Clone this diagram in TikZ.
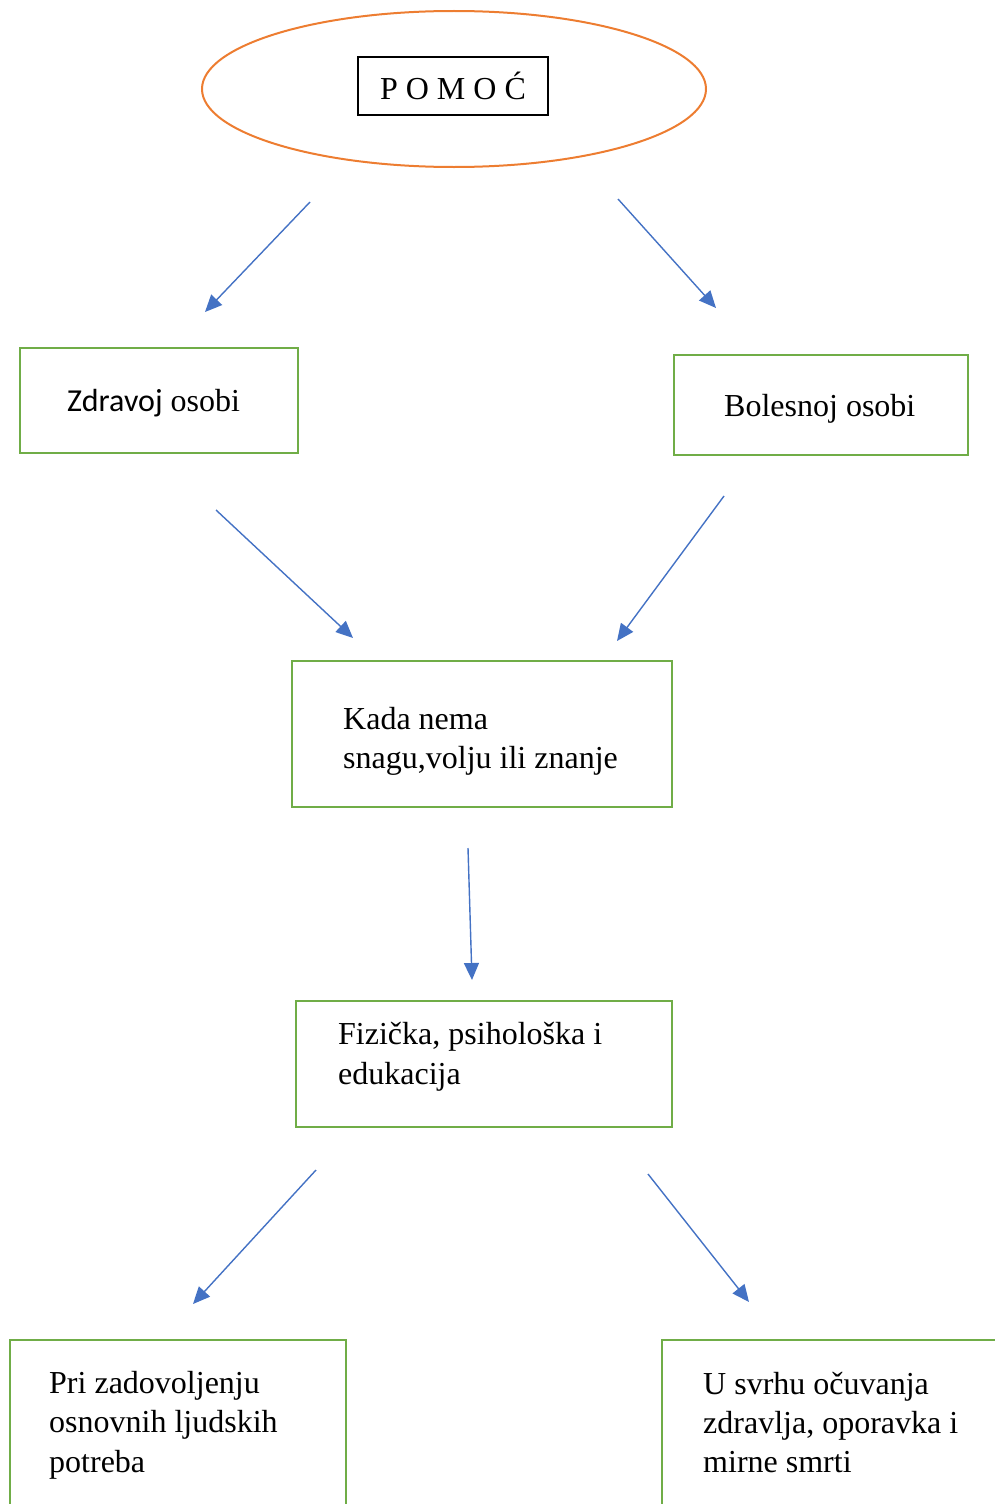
\documentclass[tikz,border=0pt]{standalone}
\usepackage{fontspec}
\setmainfont{Liberation Serif}
\newfontfamily\calfont{Carlito}
\usetikzlibrary{arrows.meta,shapes.geometric}
\definecolor{boxgreen}{HTML}{70AD47}
\definecolor{ellorange}{HTML}{ED7D31}
\definecolor{arrblue}{HTML}{4472C4}
\tikzset{
  gbox/.style={draw=boxgreen, line width=2pt, rectangle, inner sep=0pt},
  txt/.style={anchor=base west, inner sep=0pt, font=\fontsize{32}{39.5}\selectfont},
  conn/.style={draw=arrblue, line width=1.4pt, -{Triangle[length=17pt,width=15pt]}},
}
\begin{document}
\begin{tikzpicture}[x=1pt,y=-1pt]
\useasboundingbox (0,0) rectangle (995,1504);
\clip (0,0) rectangle (995,1504);
% top ellipse
\node[ellipse, draw=ellorange, line width=2pt, minimum width=504pt, minimum height=156pt, inner sep=0pt] (ell) at (454,89) {};
\node[draw=black, line width=1.1pt, minimum width=190pt, minimum height=58pt, inner sep=0pt, font=\fontsize{32}{38}\selectfont] (pomoc) at (453,86) {P O M O Ć};
% boxes
\node[gbox, minimum width=278pt, minimum height=105pt] (zdr) at (159,400.5) {};
\node[txt] (zdrt) at (67,411) {{\calfont Zdravoj} osobi};
\node[gbox, minimum width=294pt, minimum height=100pt] (bol) at (821,405) {};
\node[txt] (bolt) at (724,416) {Bolesnoj osobi};
\node[gbox, minimum width=380pt, minimum height=146pt] (kada) at (482,734) {};
\node[txt] (kada1) at (343,729) {Kada nema};
\node[txt] (kada2) at (343,768) {snagu,volju ili znanje};
\node[gbox, minimum width=376pt, minimum height=126pt] (fiz) at (484,1064) {};
\node[txt] (fiz1) at (338,1044) {Fizička, psihološka i};
\node[txt] (fiz2) at (338,1084) {edukacija};
\node[gbox, minimum width=336pt, minimum height=240pt] (pri) at (178,1460) {};
\node[txt] (pri1) at (49,1393) {Pri zadovoljenju};
\node[txt] (pri2) at (49,1432) {osnovnih ljudskih};
\node[txt] (pri3) at (49,1472) {potreba};
\node[gbox, minimum width=360pt, minimum height=240pt] (usv) at (842,1460) {};
\node[txt] (usv1) at (703,1394) {U svrhu očuvanja};
\node[txt] (usv2) at (703,1433) {zdravlja, oporavka i};
\node[txt] (usv3) at (703,1472) {mirne smrti};
% arrow end points
\coordinate (a1s) at (310,202); \coordinate (a1e) at (205,312);
\coordinate (a2s) at (618,199); \coordinate (a2e) at (716,308);
\coordinate (a3s) at (216,510); \coordinate (a3e) at (353,638);
\coordinate (a4s) at (724,496); \coordinate (a4e) at (617,641);
\coordinate (a5s) at (468,848); \coordinate (a5e) at (472,980);
\coordinate (a6s) at (316,1170); \coordinate (a6e) at (193,1304);
\coordinate (a7s) at (648,1174); \coordinate (a7e) at (749,1302);
\draw[conn] (a1s) -- (a1e);
\draw[conn] (a2s) -- (a2e);
\draw[conn] (a3s) -- (a3e);
\draw[conn] (a4s) -- (a4e);
\draw[conn] (a5s) -- (a5e);
\draw[conn] (a6s) -- (a6e);
\draw[conn] (a7s) -- (a7e);
\end{tikzpicture}
\end{document}
